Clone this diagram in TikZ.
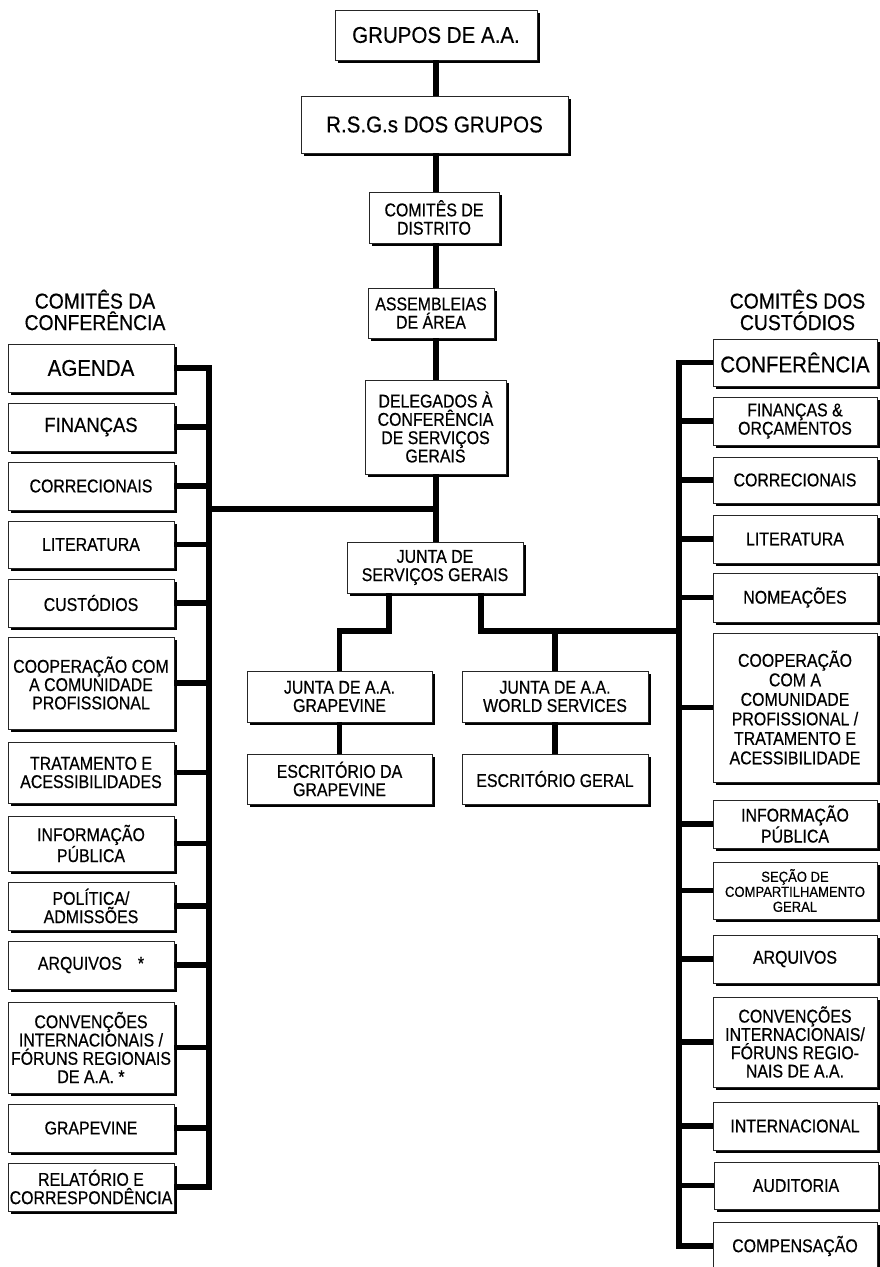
\documentclass[tikz,border=0pt]{standalone}
\usepackage{fontspec}
\setmainfont{Liberation Sans}[FakeStretch=0.9, FakeBold=0.5]
\newfontfamily\narrowfam{Liberation Sans}[FakeStretch=0.86, FakeBold=0.5]
\usetikzlibrary{shadows}
\newcommand\fbig{\fontsize{22.8}{26}\selectfont}
\newcommand\fmidb{\fontsize{20.5}{23}\selectfont}
\newcommand\fmed{\narrowfam\fontsize{18.5}{18.3}\selectfont}
\newcommand\fcoop{\narrowfam\fontsize{18.5}{19.5}\selectfont}
\newcommand\fsml{\fontsize{14.5}{15}\selectfont}
\newcommand\fhead{\fontsize{21.5}{21.5}\selectfont}
\tikzset{
  box/.style={draw=black!85, line width=0.8pt, fill=white, inner sep=0pt,
    align=center, font=\fmed,
    drop shadow={shadow xshift=3pt, shadow yshift=-3pt, fill=black, opacity=1}},
  lbox/.style={box, minimum width=166pt},
  rbox/.style={box, minimum width=164pt},
  conn/.style={line width=5.5pt, line join=miter, line cap=butt},
  head/.style={font=\fhead, align=center, inner sep=0pt},
}
\begin{document}
\begin{tikzpicture}[x=1pt, y=-1pt]
\useasboundingbox (0,0) rectangle (879,1267);

% central column
\node[box, font=\fbig, minimum width=202pt, minimum height=50pt] (g1) at (436,35) {GRUPOS DE A.A.};
\node[box, font=\fbig, minimum width=267pt, minimum height=57pt] (g2) at (434.5,124.5) {R.S.G.s DOS GRUPOS};
\node[box, minimum width=130pt, minimum height=51pt] (g3) at (434,217.5) {COMITÊS DE\\DISTRITO};
\node[box, minimum width=126pt, minimum height=50pt] (g4) at (431,313) {ASSEMBLEIAS\\DE ÁREA};
\node[box, minimum width=141pt, minimum height=94pt] (g5) at (435.5,427) {DELEGADOS À\\CONFERÊNCIA\\DE SERVIÇOS\\GERAIS};
\node[box, minimum width=176pt, minimum height=51pt] (g6) at (435,567.5) {JUNTA DE\\SERVIÇOS GERAIS};
\node[box, minimum width=185pt, minimum height=51pt] (gv) at (339.5,696.5) {JUNTA DE A.A.\\GRAPEVINE};
\node[box, minimum width=185pt, minimum height=50pt] (gve) at (339.5,779) {ESCRITÓRIO DA\\GRAPEVINE};
\node[box, minimum width=186pt, minimum height=51pt] (ws) at (555,696.5) {JUNTA DE A.A.\\WORLD SERVICES};
\node[box, minimum width=186pt, minimum height=50pt] (wse) at (555,779) {ESCRITÓRIO GERAL};

% headings
\node[head] (hl) at (95,310) {COMITÊS DA\\CONFERÊNCIA};
\node[head] (hr) at (797.5,310) {COMITÊS DOS\\CUSTÓDIOS};

% left column
\node[lbox, font=\fbig, minimum height=48pt] (l1) at (91,368) {AGENDA};
\node[lbox, font=\fmidb, minimum height=48pt] (l2) at (91,427) {FINANÇAS};
\node[lbox, minimum height=48pt] (l3) at (91,486) {CORRECIONAIS};
\node[lbox, minimum height=47pt] (l4) at (91,544.5) {LITERATURA};
\node[lbox, minimum height=48pt] (l5) at (91,603) {CUSTÓDIOS};
\node[lbox, minimum height=92pt] (l6) at (91,683) {COOPERAÇÃO COM\\A COMUNIDADE\\PROFISSIONAL};
\node[lbox, minimum height=61pt] (l7) at (91,772.5) {TRATAMENTO E\\ACESSIBILIDADES};
\node[lbox, minimum height=55pt] (l8) at (91,843.5) {INFORMAÇÃO\\PÚBLICA};
\node[lbox, minimum height=48pt] (l9) at (91,906) {POLÍTICA/\\ADMISSÕES};
\node[lbox, minimum height=48pt] (l10) at (91,965) {ARQUIVOS\hspace{16pt}*};
\node[lbox, minimum height=91pt] (l11) at (91,1047.5) {CONVENÇÕES\\INTERNACIONAIS /\\FÓRUNS REGIONAIS\\DE A.A. *};
\node[lbox, minimum height=48pt] (l12) at (91,1128) {GRAPEVINE};
\node[lbox, minimum height=48pt] (l13) at (91,1187) {RELATÓRIO E\\CORRESPONDÊNCIA};

% right column
\node[rbox, font=\fbig, minimum height=47pt] (r1) at (795,362.5) {CONFERÊNCIA};
\node[rbox, minimum height=48pt] (r2) at (795,421) {FINANÇAS \&\\ORÇAMENTOS};
\node[rbox, minimum height=46pt] (r3) at (795,480) {CORRECIONAIS};
\node[rbox, minimum height=48pt] (r4) at (795,539) {LITERATURA};
\node[rbox, minimum height=49pt] (r5) at (795,597.5) {NOMEAÇÕES};
\node[rbox, font=\fcoop, minimum height=149pt] (r6) at (795,707.5) {COOPERAÇÃO\\COM A\\COMUNIDADE\\PROFISSIONAL /\\TRATAMENTO E\\ACESSIBILIDADE};
\node[rbox, minimum height=48pt] (r7) at (795,824) {INFORMAÇÃO\\PÚBLICA};
\node[rbox, font=\fsml, minimum height=57pt] (r8) at (795,890.5) {SEÇÃO DE\\COMPARTILHAMENTO\\GERAL};
\node[rbox, minimum height=48pt] (r9) at (795,959) {ARQUIVOS};
\node[rbox, minimum height=90pt] (r10) at (795,1042) {CONVENÇÕES\\INTERNACIONAIS/\\FÓRUNS REGIO-\\NAIS DE A.A.};
\node[rbox, minimum height=48pt] (r11) at (795,1126) {INTERNACIONAL};
\node[rbox, minimum height=47pt] (r12) at (796,1185.5) {AUDITORIA};
\node[rbox, minimum height=48pt] (r13) at (795,1246) {COMPENSAÇÃO};

% helper coordinates
\coordinate (tx) at (436,0);
\coordinate (lb) at (209,0);
\coordinate (rb) at (679,0);
\coordinate (lj) at (436,509);
\coordinate (bl) at (389,631);
\coordinate (br) at (481,631);

% trunk
\draw[conn] (tx |- g1.south) -- (tx |- g2.north);
\draw[conn] (tx |- g2.south) -- (tx |- g3.north);
\draw[conn] (tx |- g3.south) -- (tx |- g4.north);
\draw[conn] (tx |- g4.south) -- (tx |- g5.north);
\draw[conn] (tx |- g5.south) -- (tx |- g6.north);
\draw[conn] (lj) -- (lj -| lb);

% boards
\draw[conn] (g6.south -| bl) -- (bl) -| (gv.north);
\draw[conn] (g6.south -| br) -- (br) -- (br -| rb);
\draw[conn] (ws.north |- br) -- (ws.north);
\draw[conn] (gv.south) -- (gve.north);
\draw[conn] (ws.south) -- (wse.north);

% left bus
\draw[conn] (l1.east) -| (lb |- l13.east) -- (l13.east);
\foreach \n in {l2,l3,l4,l5,l6,l7,l8,l9,l10,l11,l12}
  \draw[conn] (\n.east) -- (\n.east -| lb);

% right bus
\draw[conn] (r1.west) -| (rb |- r13.west) -- (r13.west);
\foreach \n in {r2,r3,r4,r5,r6,r7,r8,r9,r10,r11,r12}
  \draw[conn] (\n.west) -- (\n.west -| rb);
\end{tikzpicture}
\end{document}
